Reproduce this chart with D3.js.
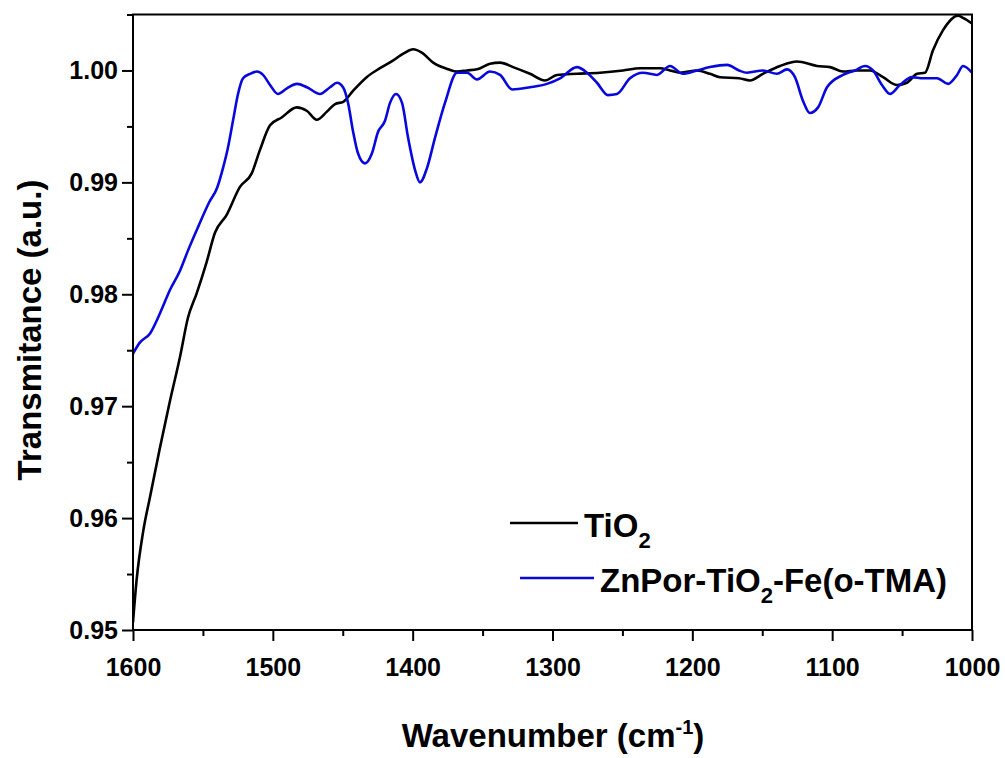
<!DOCTYPE html>
<meta charset="utf-8">
<style>
body { margin: 0; background: #fff; }
text { font-family: "Liberation Sans", Arial, sans-serif; font-weight: bold; fill: #000; }
</style>
<svg id="chart" width="1005" height="758"></svg>
<script src="https://d3js.org/d3.v7.min.js"></script>
<script>
// TiO2 spectrum
var tio2Wn = [1600, 1597.4, 1592.6, 1587.8, 1580.7, 1573.5, 1566.4, 1560.7, 1554.4, 1547.3,
  1541.4, 1533.0, 1523.5, 1515.1, 1509.2, 1502.0, 1493.7, 1482.9, 1475.8, 1468.6,
  1461.5, 1455.5, 1449.6, 1442.5, 1432.9, 1423.4, 1413.9, 1406.7, 1399.6, 1393.5,
  1385.3, 1374.5, 1368.3, 1361.1, 1354.0, 1344.7, 1337.5, 1328.2, 1316.1, 1305.4,
  1296.8, 1282.5, 1266.0, 1249.6, 1237.4, 1223.1, 1216.0, 1208.8, 1196.7, 1187.4,
  1180.2, 1166.6, 1158.8, 1149.5, 1137.3, 1125.2, 1110.8, 1101.5, 1092.3, 1082.2,
  1072.9, 1063.6, 1053.6, 1046.5, 1039.3, 1033.6, 1027.9, 1020.7, 1010.0, 1006.4, 1000];
var tio2T = [0.9507, 0.9545, 0.9589, 0.9619, 0.9663, 0.9705, 0.9744, 0.9779, 0.9801, 0.9829,
  0.9855, 0.9871, 0.9896, 0.9908, 0.9929, 0.9951, 0.9958, 0.9967, 0.9964, 0.9956,
  0.9963, 0.9970, 0.9972, 0.9982, 0.9994, 1.0002, 1.0009, 1.0015, 1.0019, 1.0016,
  1.0007, 1.0001, 0.9999, 1.0000, 1.0001, 1.0006, 1.0007, 1.0003, 0.9997, 0.9991,
  0.9996, 0.9997, 0.9998, 1.0000, 1.0002, 1.0002, 1.0000, 0.9998, 1.0000, 0.9997,
  0.9994, 0.9993, 0.9991, 0.9997, 1.0004, 1.0008, 1.0004, 1.0003, 0.9999, 1.0000,
  1.0000, 0.9994, 0.9987, 0.9989, 0.9997, 0.9998, 1.0018, 1.0036, 1.0049, 1.0047, 1.0042];

// ZnPor-TiO2-Fe(o-TMA) spectrum
var znWn = [1600, 1595.0, 1587.8, 1580.7, 1573.5, 1566.4, 1560.7, 1553.5, 1545.6, 1539.9,
  1535.6, 1532.1, 1528.5, 1524.9, 1521.3, 1516.3, 1511.3, 1507.0, 1502.0, 1496.3,
  1489.9, 1482.7, 1475.6, 1466.3, 1459.1, 1454.1, 1449.8, 1446.2, 1442.7, 1439.1,
  1434.1, 1429.1, 1424.8, 1419.8, 1416.2, 1411.9, 1407.6, 1403.3, 1398.3, 1394.8,
  1389.7, 1384.0, 1376.9, 1368.3, 1361.1, 1354.0, 1344.7, 1337.5, 1328.9, 1316.1,
  1304.0, 1294.6, 1282.5, 1275.3, 1268.2, 1260.3, 1253.9, 1244.6, 1235.3, 1225.3,
  1216.0, 1206.7, 1196.7, 1187.4, 1175.2, 1166.6, 1160.9, 1149.5, 1139.5, 1132.3,
  1126.6, 1120.9, 1115.9, 1110.1, 1103.7, 1092.3, 1083.7, 1076.5, 1070.8, 1064.4,
  1058.6, 1051.5, 1042.9, 1035.0, 1025.0, 1017.1, 1010.7, 1006.4, 1000];
var znT = [0.9747, 0.9757, 0.9765, 0.9783, 0.9804, 0.9821, 0.9839, 0.9860, 0.9882, 0.9895,
  0.9913, 0.9931, 0.9955, 0.9979, 0.9993, 0.9997, 0.9999, 0.9996, 0.9987, 0.9979,
  0.9984, 0.9988, 0.9985, 0.9979, 0.9985, 0.9989, 0.9985, 0.9971, 0.9946, 0.9926,
  0.9917, 0.9926, 0.9945, 0.9955, 0.9971, 0.9979, 0.9971, 0.9940, 0.9911, 0.9900,
  0.9913, 0.9940, 0.9971, 0.9998, 0.9998, 0.9992, 0.9999, 0.9996, 0.9983, 0.9985,
  0.9988, 0.9993, 1.0003, 0.9998, 0.9989, 0.9978, 0.9979, 0.9993, 0.9998, 0.9996,
  1.0004, 0.9997, 1.0000, 1.0003, 1.0005, 1.0000, 0.9998, 1.0000, 0.9997, 1.0001,
  0.9994, 0.9973, 0.9962, 0.9967, 0.9985, 0.9996, 1.0000, 1.0004, 1.0000, 0.9987,
  0.9979, 0.9987, 0.9994, 0.9993, 0.9993, 0.9988, 0.9996, 1.0004, 0.9998];

var xMajor = [1600, 1500, 1400, 1300, 1200, 1100, 1000];
var xMinor = [1550, 1450, 1350, 1250, 1150, 1050];
var yMajor = [0.95, 0.96, 0.97, 0.98, 0.99, 1.00];
var yMinor = [0.955, 0.965, 0.975, 0.985, 0.995, 1.005];

// plot box in pixels
var pLeft = 133, pRight = 972, pTop = 14.5, pBottom = 630;

var svg = d3.select('#chart');
var x = d3.scaleLinear().domain([1600, 1000]).range([pLeft, pRight]);
var y = d3.scaleLinear().domain([0.95, 1.005]).range([pBottom, pTop]);

svg.append('defs').append('clipPath').attr('id', 'plotclip')
  .append('rect').attr('x', pLeft).attr('y', pTop - 2)
  .attr('width', pRight - pLeft).attr('height', pBottom - pTop + 2);

function zip(wn, t) {
  return wn.map(function (w, i) { return [w, t[i]] })
}

var line = d3.line()
  .x(function (d) { return x(d[0]) })
  .y(function (d) { return y(d[1]) })
  .curve(d3.curveMonotoneX);

var plot = svg.append('g').attr('clip-path', 'url(#plotclip)');
plot.append('path').datum(zip(tio2Wn, tio2T))
  .attr('d', line).attr('fill', 'none').attr('stroke', '#000').attr('stroke-width', 2.6);
plot.append('path').datum(zip(znWn, znT))
  .attr('d', line).attr('fill', 'none').attr('stroke', '#0808dc').attr('stroke-width', 2.6);

// axes
var xAxis = svg.append('g').attr('transform', 'translate(0,' + pBottom + ')')
  .call(d3.axisBottom(x).tickValues(xMajor).tickSize(11).tickPadding(17).tickFormat(d3.format('d')));
svg.append('g').attr('transform', 'translate(0,' + pBottom + ')')
  .call(d3.axisBottom(x).tickValues(xMinor).tickSize(6).tickFormat(''));
var yAxis = svg.append('g').attr('transform', 'translate(' + pLeft + ',0)')
  .call(d3.axisLeft(y).tickValues(yMajor).tickSize(11).tickPadding(4).tickFormat(d3.format('.2f')));
svg.append('g').attr('transform', 'translate(' + pLeft + ',0)')
  .call(d3.axisLeft(y).tickValues(yMinor).tickSize(6).tickFormat(''));

svg.selectAll('.domain').remove();
svg.selectAll('.tick line').attr('stroke', '#000').attr('stroke-width', 2);
xAxis.selectAll('text').attr('font-size', 25).attr('font-family', null);
yAxis.selectAll('text').attr('font-size', 25).attr('font-family', null);

// frame
svg.append('rect').attr('x', pLeft).attr('y', pTop)
  .attr('width', pRight - pLeft).attr('height', pBottom - pTop)
  .attr('fill', 'none').attr('stroke', '#000').attr('stroke-width', 2);

// axis titles
svg.append('text').attr('x', 553).attr('y', 747).attr('text-anchor', 'middle')
  .attr('font-size', 33)
  .text('Wavenumber (cm')
  .append('tspan').attr('font-size', 20).attr('dy', -13).text('-1')
  .select(function () { return this.parentNode })
  .append('tspan').attr('dy', 13).text(')');

svg.append('text').attr('transform', 'translate(41,330) rotate(-90)')
  .attr('text-anchor', 'middle').attr('font-size', 33)
  .text('Transmitance (a.u.)');

// legend
var legend = [
  { name: 'TiO', rest: '', color: '#000', y: 523, x1: 510, x2: 578 },
  { name: 'ZnPor-TiO', rest: '-Fe(o-TMA)', color: '#0808dc', y: 578, x1: 520, x2: 594 }
];
legend.forEach(function (d) {
  svg.append('line').attr('x1', d.x1).attr('x2', d.x2).attr('y1', d.y).attr('y2', d.y)
    .attr('stroke', d.color).attr('stroke-width', 2.6);
  var t = svg.append('text').attr('x', d.x2 + 6).attr('y', d.y + 14).attr('font-size', 33).text(d.name);
  t.append('tspan').attr('font-size', 22).attr('dy', 11).text('2');
  if (d.rest) t.append('tspan').attr('dy', -11).text(d.rest);
});
</script>
